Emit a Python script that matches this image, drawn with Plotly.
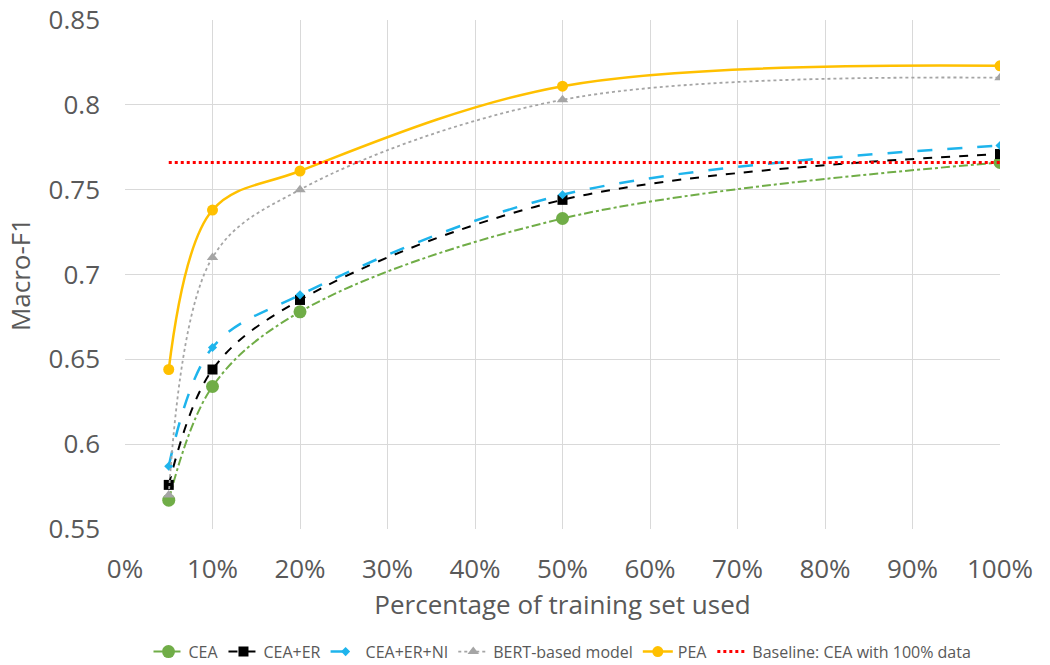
import plotly.graph_objects as go

# Share of the training set used (percent)
train_pct = [5, 10, 20, 50, 100]

# Macro-F1 per model
cea = [0.567, 0.634, 0.678, 0.733, 0.766]
cea_er = [0.576, 0.644, 0.685, 0.744, 0.771]
cea_er_ni = [0.587, 0.657, 0.688, 0.747, 0.776]
bert = [0.570, 0.710, 0.750, 0.803, 0.816]
pea = [0.644, 0.738, 0.761, 0.811, 0.823]

# Reference level: CEA trained on the full set
baseline_x = [5, 100]
baseline_y = [0.766, 0.766]

x_ticks = list(range(0, 101, 10))
x_tick_text = [f"{v}%" for v in x_ticks]
y_ticks = [0.55, 0.6, 0.65, 0.7, 0.75, 0.8, 0.85]
y_tick_text = ["0.55", "0.6", "0.65", "0.7", "0.75", "0.8", "0.85"]

TEXT = "#595959"
GRID = "#d9d9d9"
FONT = "Open Sans, Noto Sans, sans-serif"

series = [
    ("CEA", cea, "#70ad47", "dashdot", 2, "circle", 13),
    ("CEA+ER", cea_er, "#000000", "dash", 2, "square", 10),
    ("CEA+ER+NI", cea_er_ni, "#1eb4ec", "longdash", 2.5, "diamond", 7),
    ("BERT-based model", bert, "#a5a5a5", "dot", 1.8, "triangle-up", 10),
    ("PEA", pea, "#ffc000", "solid", 2.5, "circle", 11),
]

fig = go.Figure()
for name, vals, color, dash, width, symbol, size in series:
    fig.add_trace(go.Scatter(
        x=train_pct, y=vals, name=name, mode="lines+markers",
        line=dict(color=color, dash=dash, width=width, shape="spline", smoothing=1.0),
        marker=dict(symbol=symbol, size=size, color=color),
    ))

fig.add_trace(go.Scatter(
    x=baseline_x, y=baseline_y, name="Baseline: CEA with 100% data", mode="lines",
    line=dict(color="#ff0000", dash="dot", width=3),
))

fig.update_layout(
    width=1050, height=665,
    margin=dict(l=125, r=50, t=20, b=136),
    paper_bgcolor="white", plot_bgcolor="white",
    font=dict(family=FONT, color=TEXT),
    legend=dict(
        orientation="h", x=0.5, xanchor="center",
        yref="container", y=0.02, yanchor="middle",
        font=dict(size=16, color=TEXT, family=FONT),
        itemwidth=30, traceorder="normal",
    ),
    showlegend=True,
)

fig.update_xaxes(
    range=[0, 100], tickvals=x_ticks, ticktext=x_tick_text,
    showgrid=True, gridcolor=GRID, gridwidth=1,
    zeroline=False, showline=False, ticks="", automargin=False,
    tickfont=dict(size=26, color=TEXT), ticklabelstandoff=22,
    title=dict(text="Percentage of training set used", font=dict(size=26, color=TEXT), standoff=4),
)
fig.update_yaxes(
    range=[0.55, 0.85], tickvals=y_ticks, ticktext=y_tick_text,
    showgrid=True, gridcolor=GRID, gridwidth=1,
    zeroline=False, showline=False, ticks="", automargin=False,
    tickfont=dict(size=26, color=TEXT), ticklabelstandoff=24,
    title=dict(text="Macro-F1", font=dict(size=26, color=TEXT), standoff=10),
)

fig.write_html("out.html")
